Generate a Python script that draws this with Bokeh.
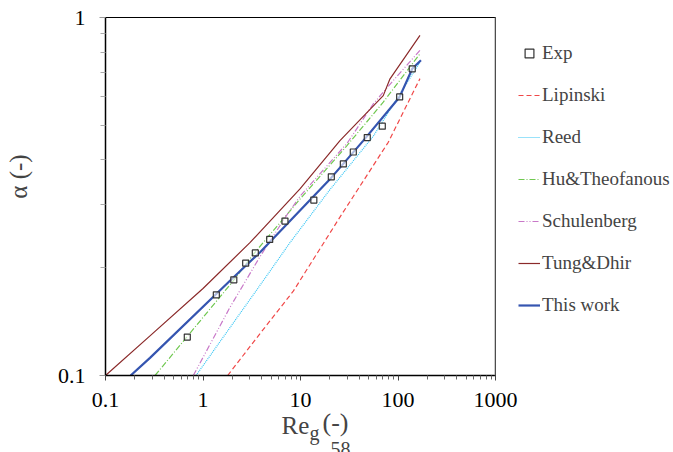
from bokeh.plotting import figure
from bokeh.models import Legend, LegendItem, FixedTicker, Label, Span
from bokeh.embed import file_html
from bokeh.resources import INLINE

# ---- data ----
exp_re = [0.69, 1.37, 2.07, 2.74, 3.44, 4.83, 6.93, 13.7, 20.7, 27.5, 34.8, 48.4, 69.0, 104, 140]
exp_alpha = [0.128, 0.168, 0.185, 0.206, 0.220, 0.240, 0.270, 0.309, 0.359, 0.390, 0.421, 0.462, 0.497, 0.600, 0.719]

lip_re = [1.79, 3.85, 8.43, 25.4, 79.4, 168]
lip_alpha = [0.100, 0.131, 0.172, 0.277, 0.448, 0.675]

reed_re = [0.848, 4.15, 7.8, 19.6, 55.8, 168]
reed_alpha = [0.100, 0.184, 0.235, 0.328, 0.466, 0.750]

hu_re = [0.322, 2.05, 3.28, 9.88, 29.8, 70.6, 168]
hu_alpha = [0.100, 0.184, 0.218, 0.311, 0.438, 0.580, 0.792]

sch_re = [0.795, 1.89, 3.85, 7.2, 10.0, 30.0, 55.8, 89.5, 168]
sch_alpha = [0.100, 0.155, 0.215, 0.280, 0.318, 0.445, 0.574, 0.667, 0.810]

tung_re = [0.1, 0.286, 1.0, 3.03, 9.88, 25.4, 70.6, 82.8, 168]
tung_alpha = [0.100, 0.129, 0.175, 0.235, 0.332, 0.453, 0.605, 0.674, 0.891]

tw_re = [0.181, 0.286, 1.89, 3.85, 9.88, 20.7, 44.1, 104, 140, 172]
tw_alpha = [0.100, 0.112, 0.184, 0.221, 0.289, 0.357, 0.453, 0.600, 0.719, 0.760]

x_ticks = [0.1, 1, 10, 100, 1000]
y_ticks = [0.1, 1]

SERIF = "Liberation Serif"

p = figure(frame_width=390, frame_height=358, x_axis_type="log", y_axis_type="log",
           x_range=(0.1, 1000), y_range=(0.1, 1),
           output_backend="svg", toolbar_location=None,
           min_border_left=105, min_border_right=170, min_border_top=17, min_border_bottom=76)
p.grid.visible = False
p.outline_line_color = "black"
p.outline_line_width = 1
p.background_fill_color = "white"
p.border_fill_color = "white"

xminor = [m * 10.0 ** k for k in range(-1, 3) for m in range(2, 10)]
yminor = [m * 0.1 for m in range(2, 10)]
p.xaxis.ticker = FixedTicker(ticks=x_ticks, minor_ticks=xminor)
p.yaxis.ticker = FixedTicker(ticks=y_ticks, minor_ticks=yminor)
p.xaxis.major_label_overrides = {0.1: "0.1", 1: "1", 10: "10", 100: "100", 1000: "1000"}
p.yaxis.major_label_overrides = {0.1: "0.1", 1: "1"}

for ax in (p.xaxis[0], p.yaxis[0]):
    ax.axis_line_color = "black"
    ax.axis_line_width = 1.5
    ax.major_label_text_font = SERIF
    ax.major_label_text_font_size = "22px"
    ax.major_label_text_color = "black"
    ax.major_tick_in = 0
    ax.minor_tick_in = 0

p.xaxis.major_tick_out = 5
p.xaxis.minor_tick_out = 4
p.xaxis.major_tick_line_color = "#444444"
p.xaxis.minor_tick_line_color = "#666666"
p.xaxis.major_label_standoff = 12
p.yaxis.major_tick_out = 6
p.yaxis.minor_tick_out = 5
p.yaxis.major_tick_line_color = "#999999"
p.yaxis.minor_tick_line_color = "#aaaaaa"
p.yaxis.major_label_standoff = 14

# right frame edge (grey)
p.add_layout(Span(location=1000, dimension="height", line_color="#9a9a9a", line_width=2))

r_lip = p.line(lip_re, lip_alpha, line_color="#f04848", line_width=1.2, line_dash="5 3")
r_reed = p.line(reed_re, reed_alpha, line_color="#33c4f4", line_width=1.2, line_dash="1 1")
r_hu = p.line(hu_re, hu_alpha, line_color="#70c850", line_width=1.2, line_dash="6 2 1 2")
r_sch = p.line(sch_re, sch_alpha, line_color="#c878c8", line_width=1.2, line_dash="6 2 1 2 1 2")
r_tung = p.line(tung_re, tung_alpha, line_color="#8b2a2a", line_width=1.2)
r_tw = p.line(tw_re, tw_alpha, line_color="#3555b0", line_width=2.2)
r_exp = p.scatter(exp_re, exp_alpha, marker="square", size=6, line_color="#333333",
                  line_width=1.2, fill_color="white", fill_alpha=0.6)

legend = Legend(items=[
    LegendItem(label="Exp", renderers=[r_exp]),
    LegendItem(label="Lipinski", renderers=[r_lip]),
    LegendItem(label="Reed", renderers=[r_reed]),
    LegendItem(label="Hu&Theofanous", renderers=[r_hu]),
    LegendItem(label="Schulenberg", renderers=[r_sch]),
    LegendItem(label="Tung&Dhir", renderers=[r_tung]),
    LegendItem(label="This work", renderers=[r_tw]),
], location="top_left", orientation="vertical",
    label_text_font=SERIF, label_text_font_size="19px",
    glyph_width=22, glyph_height=26, label_height=26, spacing=16, label_standoff=2,
    padding=0, margin=23, border_line_color=None, background_fill_alpha=0)
p.add_layout(legend, "right")

# axis titles as text labels in the side panels (below-panel labels stack downwards)
p.add_layout(Label(x=176, y=11, x_units="screen", y_units="screen", text="Re",
                   text_font=SERIF, text_font_size="25px", text_baseline="alphabetic"), "below")
p.add_layout(Label(x=204, y=26, x_units="screen", y_units="screen", text="g",
                   text_font=SERIF, text_font_size="20px", text_baseline="alphabetic"), "below")
p.add_layout(Label(x=217, y=65, x_units="screen", y_units="screen", text="(-)",
                   text_font=SERIF, text_font_size="26px", text_baseline="alphabetic"), "below")
p.add_layout(Label(x=225, y=53, x_units="screen", y_units="screen", text="58",
                   text_font=SERIF, text_font_size="20px", text_baseline="alphabetic"), "below")
p.add_layout(Label(x=-9, y=199, x_units="screen", y_units="screen", text="α (-)", angle=1.5708,
                   text_font=SERIF, text_font_size="25px", text_align="center", text_baseline="middle"), "left")

open("out.html", "w").write(file_html(p, INLINE))
